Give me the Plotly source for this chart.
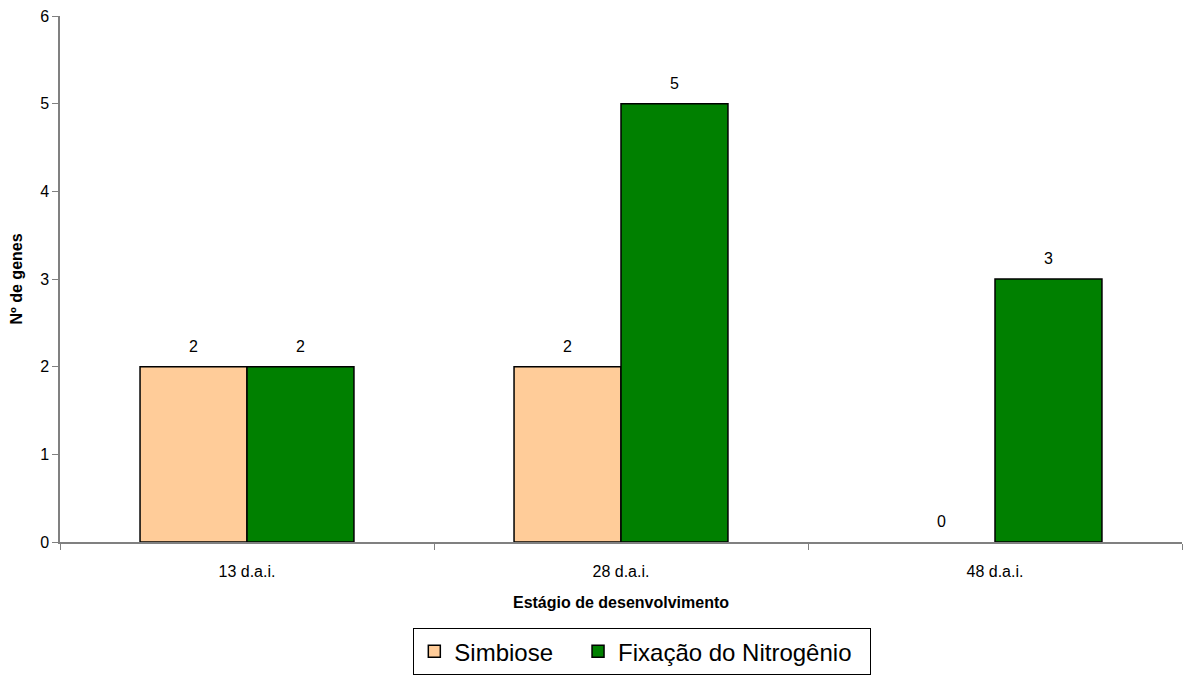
import plotly.graph_objects as go

categories = ["13 d.a.i.", "28 d.a.i.", "48 d.a.i."]
simbiose = [2, 2, 0]
fixacao = [2, 5, 3]
series_names = ["Simbiose", "Fixação do Nitrogênio"]
colors = ["#FFCC99", "#008000"]

BARGAP = 0.428
FONT = "Liberation Sans, Arial, sans-serif"
NBSP = "\u00a0"
legend_pad = [3, 2]  # extra spacing after each legend label

fig = go.Figure()
series = [simbiose, fixacao]
for name, vals, col, pad in zip(series_names, series, colors, legend_pad):
    fig.add_trace(go.Bar(
        x=categories, y=vals, name=name + NBSP * pad,
        marker=dict(color=col, line=dict(color="black", width=[1.5 if v else 0 for v in vals])),
        cliponaxis=False,
    ))

# value labels above bars, placed via the axis scales
bar_w = (1 - BARGAP) / len(series)
annotations = []
for j, vals in enumerate(series):
    off = (j - (len(series) - 1) / 2) * bar_w
    for i, v in enumerate(vals):
        annotations.append(dict(
            x=i + off, y=v, xref="x", yref="y", text=str(v), showarrow=False,
            yanchor="bottom", yshift=10, font=dict(family=FONT, size=16, color="black"),
        ))

fig.update_layout(
    width=1184, height=675,
    margin=dict(l=60, r=2, t=16, b=133, autoexpand=False),
    plot_bgcolor="white", paper_bgcolor="white",
    barmode="group", bargap=BARGAP, bargroupgap=0,
    font=dict(family=FONT, color="black"),
    annotations=annotations,
    xaxis=dict(
        showline=True, linecolor="#808080", linewidth=1.5, automargin=False,
        ticks="outside", tickson="boundaries", ticklen=6, tickcolor="#808080",
        tickfont=dict(size=16), ticklabelstandoff=14,
        title=dict(text="<b>Estágio de desenvolvimento</b>", font=dict(size=16), standoff=18),
    ),
    yaxis=dict(
        range=[0, 6], dtick=1, showgrid=False, zeroline=False, automargin=False,
        showline=True, linecolor="#808080", linewidth=1.5,
        ticks="outside", ticklen=6, tickcolor="#808080",
        tickfont=dict(size=16),
        title=dict(text="<b>Nº de genes</b>", font=dict(size=16), standoff=14),
    ),
    legend=dict(
        orientation="h", x=0.519, xanchor="center", y=-0.164, yanchor="top",
        bordercolor="black", borderwidth=1,
        font=dict(size=24), itemwidth=30,
    ),
    showlegend=True,
)

fig.write_html("out.html")
